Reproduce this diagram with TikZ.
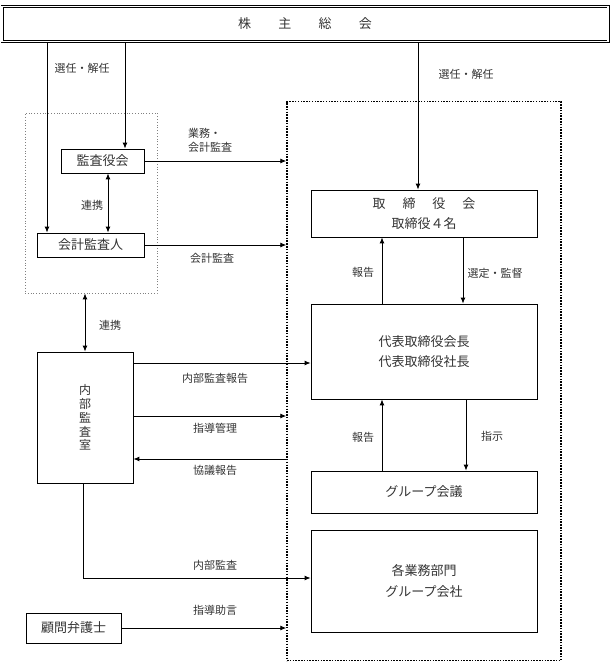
\documentclass[tikz,border=0pt]{standalone}
\usepackage{fontspec}
\setmainfont{Noto Sans CJK JP}
\usetikzlibrary{arrows.meta}
\begin{document}
\begin{tikzpicture}[x=1pt,y=-1pt,
  box/.style={draw, line width=0.8pt, inner sep=0pt, font=\fontsize{13}{23}\selectfont, text=black!80, align=center},
  lab/.style={font=\fontsize{11}{14}\selectfont, text=black!80, inner sep=0pt, align=left},
  arr/.style={line width=0.9pt, -{Latex[length=6pt,width=5pt]}},
  darr/.style={line width=0.9pt, {Latex[length=6pt,width=5pt]}-{Latex[length=6pt,width=5pt]}}]
\useasboundingbox (0,0) rectangle (612,669);

% boxes
\node[box, double, double distance=1.6pt, line width=0.7pt, minimum width=606pt, minimum height=35pt] (gm) at (305,24) {株\hspace{2.1em}主\hspace{2.1em}総\hspace{2.1em}会};
\node[draw=gray, dotted, line width=0.8pt, inner sep=0pt, minimum width=132pt, minimum height=180pt] (auditgrp) at (91,203) {};
\node[box, minimum width=83pt, minimum height=24pt] (kansa) at (102.5,161) {監査役会};
\node[box, minimum width=107pt, minimum height=24pt] (kaikei) at (90.5,245) {会計監査人};
\node[box, minimum width=96pt, minimum height=131pt, font=\fontsize{12}{13.8}\selectfont] (naibu) at (85,417.5) {内\\部\\監\\査\\室};
\node[box, minimum width=95pt, minimum height=30pt] (komon) at (73.5,628) {顧問弁護士};
\node[draw, line width=1.5pt, dash pattern=on 1.5pt off 1.3pt, inner sep=0pt, minimum width=274pt, minimum height=559pt] (exec) at (424,381) {};
\node[box, minimum width=226pt, minimum height=47pt] (board) at (424,213.5) {取\hspace{1.3em}締\hspace{1.3em}役\hspace{1.3em}会\\[-0.2em]取締役４名};
\node[box, minimum width=226pt, minimum height=95pt] (rep) at (424,351.5) {代表取締役会長\\[-0.2em]代表取締役社長};
\node[box, minimum width=226pt, minimum height=42pt] (group) at (424,492) {グループ会議};
\node[box, minimum width=226pt, minimum height=102pt] (depts) at (424,581) {各業務部門\\[-0.2em]グループ会社};

% helper coordinates
\coordinate (xA) at (47,0);
\coordinate (xB) at (125,0);
\coordinate (xC) at (418,0);
\coordinate (xD) at (108,0);
\coordinate (xG) at (83,0);
\coordinate (xR) at (382,0);
\coordinate (xS) at (463,0);
\coordinate (xT) at (466,0);
\coordinate (y1) at (0,363);
\coordinate (y2) at (0,416);
\coordinate (y3) at (0,459);
\coordinate (y4) at (0,578);

% connectors
\draw[arr] (gm.south -| xA) -- (kaikei.north -| xA);
\draw[arr] (gm.south -| xB) -- (kansa.north -| xB);
\draw[arr] (gm.south -| xC) -- (board.north -| xC);
\draw[arr] (kansa.east) -- (kansa.east -| exec.west);
\draw[arr] (kaikei.east) -- (kaikei.east -| exec.west);
\draw[darr] (kansa.south -| xD) -- (kaikei.north -| xD);
\draw[darr] (auditgrp.south -| naibu.north) -- (naibu.north);
\draw[arr] (naibu.east |- y1) -- (rep.west |- y1);
\draw[arr] (naibu.east |- y2) -- (exec.west |- y2);
\draw[arr] (exec.west |- y3) -- (naibu.east |- y3);
\draw[arr] (naibu.south -| xG) |- (depts.west |- y4);
\draw[arr] (komon.east) -- (komon.east -| exec.west);
\draw[arr] (rep.north -| xR) -- (board.south -| xR);
\draw[arr] (board.south -| xS) -- (rep.north -| xS);
\draw[arr] (group.north -| xR) -- (rep.south -| xR);
\draw[arr] (rep.south -| xT) -- (group.north -| xT);

% labels
\node[lab] (l1) at (82,68) {選任・解任};
\node[lab] (l2) at (466,74) {選任・解任};
\node[lab, anchor=west] (l3) at (188,140) {業務・\\会計監査};
\node[lab] (l4) at (212,258) {会計監査};
\node[lab] (l5) at (92,205) {連携};
\node[lab] (l6) at (110,325) {連携};
\node[lab] (l7) at (363,272) {報告};
\node[lab] (l8) at (495,273) {選定・監督};
\node[lab] (l9) at (363,437) {報告};
\node[lab] (l10) at (492,436) {指示};
\node[lab] (l11) at (215,378) {内部監査報告};
\node[lab] (l12) at (215,428) {指導管理};
\node[lab] (l13) at (215,470) {協議報告};
\node[lab] (l14) at (215,565) {内部監査};
\node[lab] (l15) at (215,610) {指導助言};
\end{tikzpicture}
\end{document}
